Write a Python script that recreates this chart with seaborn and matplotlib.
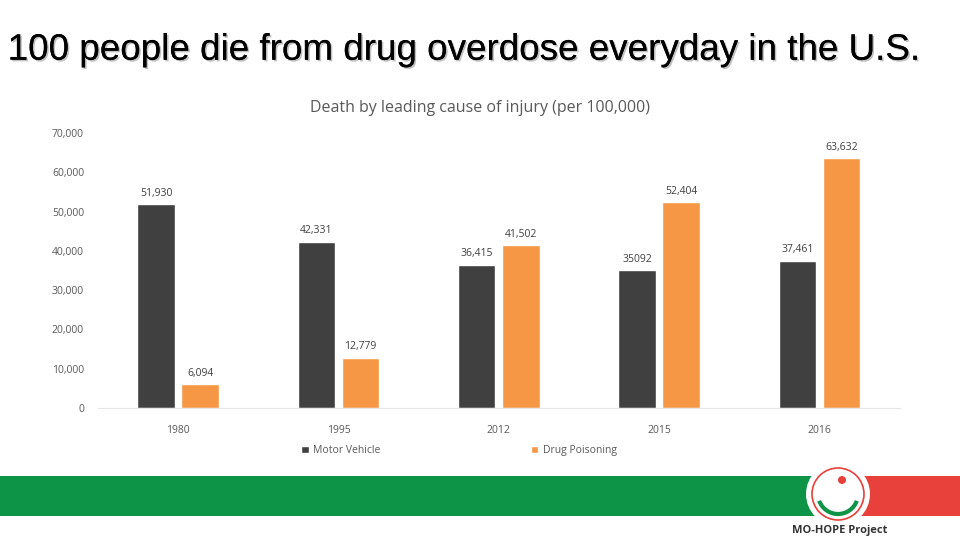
import pandas as pd
import numpy as np
import matplotlib
matplotlib.use("Agg")
import matplotlib.pyplot as plt
import matplotlib.patheffects as pe
from matplotlib.patches import Rectangle, Circle, Arc
import seaborn as sns

# Data
years = ["1980", "1995", "2012", "2015", "2016"]
motor_vehicle = [51930, 42331, 36415, 35092, 37461]
drug_poisoning = [6094, 12779, 41502, 52404, 63632]
motor_labels = ["51,930", "42,331", "36,415", "35092", "37,461"]
drug_labels = ["6,094", "12,779", "41,502", "52,404", "63,632"]
series = ["Motor Vehicle", "Drug Poisoning"]

df = pd.DataFrame({
    "year": years * 2,
    "deaths": motor_vehicle + drug_poisoning,
    "cause": [series[0]] * len(years) + [series[1]] * len(years),
})

sns.set_theme(style="white")
plt.rcParams["font.family"] = ["Open Sans", "DejaVu Sans"]

fig = plt.figure(figsize=(9.6, 5.4), dpi=100)
ax = fig.add_axes([0.102, 0.2444, 0.835, 0.509])

sns.barplot(data=df, x="year", y="deaths", hue="cause",
            palette=["#404040", "#F59745"], saturation=1,
            width=0.55, gap=0.15, ax=ax, legend=True)

for cont, labs in zip(ax.containers, [motor_labels, drug_labels]):
    ax.bar_label(cont, labels=labs, padding=4, fontsize=7.5, color="#404040")

ax.set_ylim(0, 70000)
ax.set_yticks(np.arange(0, 70001, 10000))
ax.set_yticklabels([f"{v:,}" for v in range(0, 70001, 10000)])
ax.tick_params(axis="both", labelsize=7.5, labelcolor="#595959", length=0, pad=12)
ax.tick_params(axis="y", pad=10)
ax.set_xlabel("")
ax.set_ylabel("")
for s in ["top", "right", "left"]:
    ax.spines[s].set_visible(False)
ax.spines["bottom"].set_color("#e6e6e6")
ax.spines["bottom"].set_linewidth(0.8)

h, l = ax.get_legend_handles_labels()
ax.legend(h, l, loc="center", bbox_to_anchor=(0.478, 0.165),
          bbox_transform=fig.transFigure, ncol=2, frameon=False,
          fontsize=7.5, labelcolor="#595959", handlelength=0.7,
          handleheight=0.7, handletextpad=0.4, columnspacing=14.5)

# chart title
fig.text(0.5, 1 - 108 / 540, "Death by leading cause of injury (per 100,000)",
         ha="center", va="center", fontsize=11.5, color="#595959")

# slide heading with shadow
fig.text(0.008, 0.907, "100 people die from drug overdose everyday in the U.S.",
         fontsize=26.5, family="Liberation Sans", color="black", va="center",
         path_effects=[pe.withSimplePatchShadow(offset=(1.2, -1.2),
                                                shadow_rgbFace="#999999", alpha=0.6),
                       pe.Normal()])

# footer bands and logo
fig.patches.append(Rectangle((0, 540 - 516), 815, 40, transform=None,
                             facecolor="#0E9447", edgecolor="none"))
fig.patches.append(Rectangle((860, 540 - 516), 100, 40, transform=None,
                             facecolor="#E8403A", edgecolor="none"))
fig.patches.append(Circle((838, 540 - 494), 32, transform=None,
                          facecolor="white", edgecolor="none"))
fig.patches.append(Circle((838, 540 - 494), 26, transform=None,
                          facecolor="white", edgecolor="#E8403A", linewidth=1.2))
fig.patches.append(Arc((838, 540 - 494), 40, 40, theta1=200, theta2=340,
                       transform=None, edgecolor="#0E9447", linewidth=3))
fig.patches.append(Circle((842, 540 - 480), 4, transform=None,
                          facecolor="#E8403A", edgecolor="none"))
fig.text(840 / 960, 1 - 530 / 540, "MO-HOPE Project", ha="center", va="center",
         fontsize=8, fontweight="bold", color="#333333")

fig.savefig("out.png", dpi=100)
